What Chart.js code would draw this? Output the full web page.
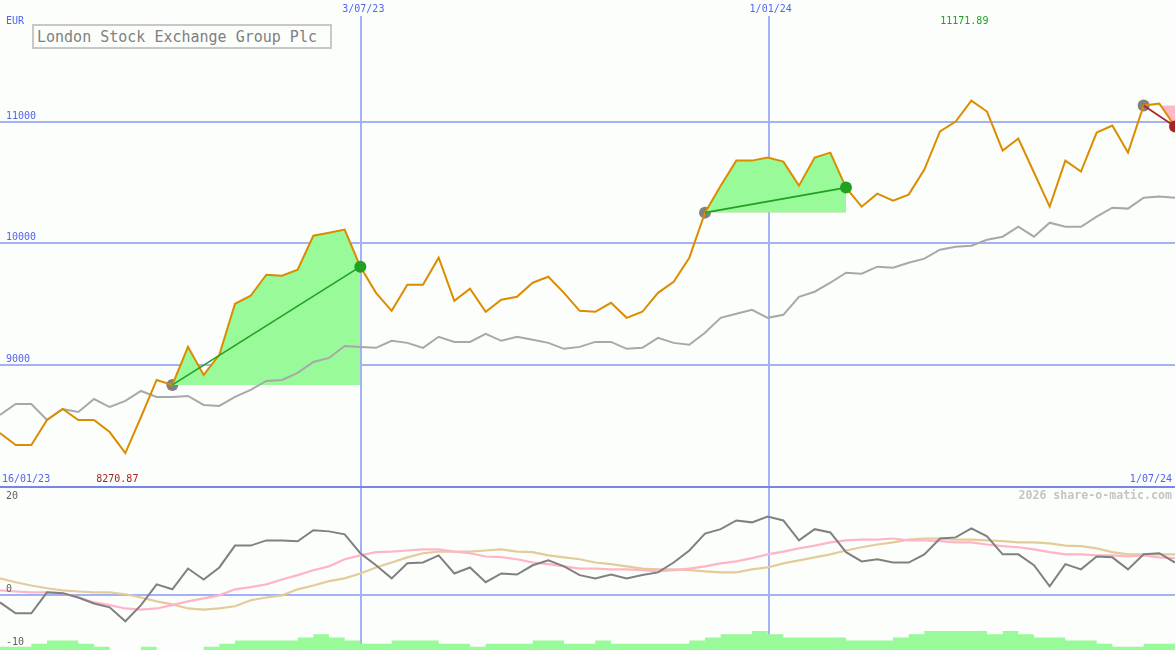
<!DOCTYPE html>
<html>
<head>
<meta charset="utf-8">
<script src="https://cdn.jsdelivr.net/npm/chart.js@4.4.0/dist/chart.umd.min.js"></script>
<style>
html,body{margin:0;padding:0;background:#fcfefc;}
#wrap{position:relative;width:1175px;height:650px;overflow:hidden;background:#fcfefc;}
#c1{position:absolute;left:0;top:0;}
#c2{position:absolute;left:0;top:486px;}
#title{position:absolute;left:32px;top:24px;width:293px;height:21px;border:2px solid #c8c8c8;
  font:15px "DejaVu Sans Mono",monospace;color:#808080;line-height:22px;padding-left:3px;white-space:nowrap;background:#fcfefc;}
</style>
</head>
<body>
<div id="wrap">
  <canvas id="c1" width="1175" height="486"></canvas>
  <canvas id="c2" width="1175" height="164"></canvas>
  <div id="title">London Stock Exchange Group Plc</div>
</div>
<script>
// ---------- data ----------
const currency = 'EUR';
const startDateLabel = '16/01/23';
const endDateLabel = '1/07/24';
const gridDateLabels = ['3/07/23', '1/01/24'];
const gridDateWeeks = [23, 49];
const priceTicks = [9000, 10000, 11000];
const oscTicks = [20, 0, -10];
const watermark = '2026 share-o-matic.com';

// weekly close
const price = [8436, 8337, 8337, 8543, 8634, 8543, 8543, 8444, 8270.87, 8568,
  8873, 8832, 9145, 8914, 9079, 9500, 9566, 9739, 9730, 9780,
  10060, 10085, 10110, 9805, 9590, 9442, 9656, 9656, 9879, 9524,
  9623, 9434, 9533, 9557, 9673, 9722, 9590, 9442, 9434, 9508,
  9384, 9434, 9590, 9681, 9879, 10250, 10472, 10678, 10678, 10703,
  10670, 10472, 10703, 10744, 10456, 10299, 10406, 10349, 10398, 10604,
  10918, 11000, 11171.89, 11082, 10761, 10860, 10580, 10299, 10678, 10588,
  10909, 10967, 10744, 11132, 11148, 10959];

// moving average
const movingAvg = [8585, 8675, 8675, 8543, 8634, 8609, 8716, 8650, 8700, 8782,
  8733, 8733, 8741, 8667, 8659, 8733, 8791, 8865, 8873, 8931,
  9021, 9054, 9153, 9145, 9137, 9195, 9178, 9137, 9228, 9186,
  9186, 9252, 9195, 9228, 9203, 9178, 9129, 9145, 9186, 9186,
  9129, 9137, 9219, 9178, 9162, 9261, 9384, 9417, 9450, 9384,
  9409, 9557, 9599, 9673, 9755, 9747, 9805, 9796, 9838, 9871,
  9945, 9970, 9978, 10027, 10052, 10134, 10052, 10167, 10134, 10134,
  10217, 10291, 10283, 10373, 10382, 10373];

// oscillator panel
const momentum = [-1.3, -3.3, -3.3, 0.55, 0.4, -0.4, -1.5, -2.2, -4.75, -1.8,
  2.0, 1.1, 4.9, 2.9, 5.1, 9.1, 9.1, 10.05, 10.05, 9.9,
  11.9, 11.7, 11.15, 7.7, 5.5, 3.1, 5.85, 6.0, 7.3, 4.0,
  5.1, 2.4, 4.0, 3.8, 5.5, 6.4, 5.3, 3.7, 3.1, 3.8,
  3.1, 3.7, 4.2, 6.0, 8.2, 11.3, 12.1, 13.7, 13.35, 14.4,
  13.7, 10.05, 12.1, 11.5, 7.9, 6.2, 6.6, 6.0, 6.0, 7.5,
  10.4, 10.6, 12.25, 10.8, 7.5, 7.5, 5.5, 1.65, 5.7, 4.75,
  7.1, 6.95, 4.75, 7.5, 7.7, 6.0];
const signal = [0.9, 0.7, 0.55, 0.55, 0.4, -0.4, -1.3, -1.8, -2.4, -2.6,
  -2.4, -1.8, -1.1, -0.55, 0, 1.1, 1.5, 2.0, 2.9, 3.7,
  4.6, 5.3, 6.6, 7.3, 7.9, 8.0, 8.2, 8.4, 8.4, 8.0,
  7.7, 7.1, 7.0, 6.6, 6.0, 5.7, 5.3, 4.9, 4.9, 4.75,
  4.75, 4.6, 4.4, 4.6, 4.9, 5.3, 5.85, 6.2, 6.8, 7.5,
  8.0, 8.6, 9.1, 9.7, 10.05, 10.2, 10.2, 10.4, 10.05, 10.05,
  9.9, 9.7, 9.7, 9.3, 9.0, 8.8, 8.4, 7.9, 7.5, 7.5,
  7.3, 7.3, 7.1, 7.3, 6.95, 6.8];
const slowLine = [3.1, 2.4, 1.8, 1.3, 0.9, 0.7, 0.55, 0.55, 0.2, -0.4,
  -1.1, -1.65, -2.4, -2.6, -2.4, -2.0, -0.9, -0.4, 0, 1.1,
  1.8, 2.6, 3.1, 4.0, 5.1, 6.0, 6.95, 7.7, 8.0, 8.0,
  8.0, 8.2, 8.4, 8.0, 7.9, 7.3, 6.95, 6.6, 6.0, 5.7,
  5.3, 4.9, 4.75, 4.75, 4.6, 4.4, 4.2, 4.2, 4.75, 5.1,
  5.85, 6.4, 6.95, 7.5, 8.2, 8.8, 9.3, 9.7, 10.2, 10.4,
  10.4, 10.2, 10.2, 10.05, 9.9, 9.7, 9.7, 9.5, 9.1, 9.0,
  8.6, 7.9, 7.5, 7.5, 7.5, 7.5];
// relative weekly volume (one value per week interval)
const volume = [1, 1, 2, 3, 3, 2, 1, 0, 0, 1,
  0, 0, 0, 1, 2, 3, 3, 3, 3, 4,
  5, 4, 3, 2, 2, 3, 3, 3, 2, 2,
  1, 2, 2, 2, 3, 3, 2, 2, 3, 2,
  2, 2, 2, 2, 3, 4, 5, 5, 6, 5,
  4, 4, 4, 4, 3, 3, 3, 4, 5, 6,
  6, 6, 6, 5, 6, 5, 4, 4, 3, 3,
  2, 1, 1, 2, 2];

// trades (week indexes)
const tradeStart = [11, 45, 73];
const tradeEnd = [23, 54, 75];

// ---------- styles ----------
const C = {
  grid: '#a3b2f4', sep: '#7585ea', axisText: '#5064f0',
  price: '#dc8c00', ma: '#a8a8a8', mom: '#808080', sig: '#ffb4c8', slow: '#e2cc9a',
  fillUp: '#98fa98', fillDown: '#ffb8c6', win: '#22a022', loss: '#aa2222', start: '#808080',
  vol: '#98fa98', oscText: '#606060', mark: '#c4c4c4'
};
const FONT = '10px "DejaVu Sans Mono", monospace';
const lastWeek = price.length - 1;

const pts = (arr, from = 0, to = arr.length - 1) => {
  const out = [];
  for (let i = from; i <= to; i++) out.push({ x: i, y: arr[i] });
  return out;
};

// ---------- upper chart ----------
const upperDatasets = [];
upperDatasets.push({
  label: 'exit', data: tradeEnd.map(i => ({ x: i, y: price[i] })), showLine: false,
  pointRadius: 6, pointHoverRadius: 6, borderWidth: 0,
  pointBackgroundColor: tradeEnd.map((e, t) => price[e] >= price[tradeStart[t]] ? C.win : C.loss),
  pointBorderWidth: 0, clip: false
});
tradeStart.forEach((s, t) => {
  const e = tradeEnd[t];
  upperDatasets.push({
    label: 'trade' + t, data: [{ x: s, y: price[s] }, { x: e, y: price[e] }],
    borderColor: price[e] >= price[s] ? C.win : C.loss, borderWidth: 1.6, pointRadius: 0, tension: 0
  });
});
upperDatasets.push({ label: 'price', data: pts(price), borderColor: C.price, borderWidth: 2, pointRadius: 0, tension: 0 });
upperDatasets.push({ label: 'ma', data: pts(movingAvg), borderColor: C.ma, borderWidth: 2, pointRadius: 0, tension: 0 });
tradeStart.forEach((s, t) => {
  const e = tradeEnd[t];
  upperDatasets.push({
    label: 'fill' + t, data: pts(price, s, e), borderWidth: 0, pointRadius: 0, tension: 0,
    borderColor: 'rgba(0,0,0,0)',
    fill: { target: { value: price[s] }, above: C.fillUp, below: C.fillDown }
  });
});
upperDatasets.push({
  label: 'entry', data: tradeStart.map(i => ({ x: i, y: price[i] })), showLine: false,
  pointRadius: 6, pointHoverRadius: 6, borderWidth: 0, pointBackgroundColor: C.start, pointBorderWidth: 0
});

const upperPlugin = {
  id: 'upperDeco',
  beforeDatasetsDraw(chart) {
    const { ctx, scales: { x, y }, chartArea: a } = chart;
    ctx.save();
    ctx.fillStyle = C.grid;
    priceTicks.forEach(v => {
      const py = Math.round(y.getPixelForValue(v));
      ctx.fillRect(a.left, py - 1, a.right - a.left, 2);
    });
    gridDateWeeks.forEach(w => {
      const px = Math.round(x.getPixelForValue(w));
      ctx.fillRect(px, 16, 2, a.bottom - 16);
    });
    ctx.restore();
  },
  afterDraw(chart) {
    const { ctx, scales: { x, y }, chartArea: a } = chart;
    ctx.save();
    ctx.font = FONT;
    ctx.textBaseline = 'middle';
    ctx.fillStyle = C.axisText;
    ctx.textAlign = 'left';
    ctx.fillText(currency, 6, 21);
    priceTicks.forEach(v => ctx.fillText(String(v), 6, y.getPixelForValue(v) - 5.5));
    ctx.fillText(startDateLabel, 2, 479);
    ctx.textAlign = 'right';
    ctx.fillText(endDateLabel, a.right - 3, 479);
    ctx.textAlign = 'center';
    gridDateWeeks.forEach((w, i) => ctx.fillText(gridDateLabels[i], x.getPixelForValue(w) + 3, 9));
    // max / min
    let iMax = 0, iMin = 0;
    price.forEach((v, i) => { if (v > price[iMax]) iMax = i; if (v < price[iMin]) iMin = i; });
    ctx.fillStyle = C.win;
    ctx.fillText(price[iMax].toFixed(2), x.getPixelForValue(iMax) - 7, 21);
    ctx.fillStyle = C.loss;
    ctx.fillText(price[iMin].toFixed(2), x.getPixelForValue(iMin) - 8, 479);
    ctx.restore();
  }
};

new Chart(document.getElementById('c1'), {
  type: 'line',
  data: { datasets: upperDatasets },
  options: {
    responsive: false, animation: false, devicePixelRatio: 1,
    layout: { padding: 0, autoPadding: false },
    plugins: { legend: { display: false }, tooltip: { enabled: false }, filler: { propagate: false } },
    events: [],
    scales: {
      x: { type: 'linear', min: 0, max: lastWeek, display: false },
      y: { type: 'linear', min: 8000, max: 12000, display: false }
    }
  },
  plugins: [upperPlugin]
});

// ---------- lower chart ----------
const volPts = volume.map((v, i) => ({ x: i, y: v }));
volPts.push({ x: volume.length, y: volume[volume.length - 1] });

const lowerPlugin = {
  id: 'lowerDeco',
  beforeDatasetsDraw(chart) {
    const { ctx, scales: { x, y }, chartArea: a } = chart;
    ctx.save();
    ctx.fillStyle = C.grid;
    const py = Math.round(y.getPixelForValue(0));
    ctx.fillRect(a.left, py - 1, a.right - a.left, 2);
    gridDateWeeks.forEach(w => {
      const px = Math.round(x.getPixelForValue(w));
      ctx.fillRect(px, a.top, 2, a.bottom - a.top);
    });
    ctx.restore();
  },
  afterDraw(chart) {
    const { ctx, scales: { y }, chartArea: a } = chart;
    ctx.save();
    ctx.fillStyle = C.sep;
    ctx.fillRect(a.left, 0, a.right - a.left, 2);
    ctx.font = FONT;
    ctx.textBaseline = 'middle';
    ctx.textAlign = 'left';
    ctx.fillStyle = C.oscText;
    ctx.fillText(String(oscTicks[0]), 6, y.getPixelForValue(oscTicks[0]) + 10);
    ctx.fillText(String(oscTicks[1]), 6, y.getPixelForValue(oscTicks[1]) - 6);
    ctx.fillText(String(oscTicks[2]), 6, y.getPixelForValue(oscTicks[2]) - 8);
    ctx.textAlign = 'right';
    ctx.fillStyle = C.mark;
    ctx.font = 'bold 11.6px "DejaVu Sans Mono", monospace';
    ctx.fillText(watermark, a.right - 3, 10);
    ctx.restore();
  }
};

new Chart(document.getElementById('c2'), {
  type: 'line',
  data: {
    datasets: [
      { label: 'momentum', data: pts(momentum), borderColor: C.mom, borderWidth: 2, pointRadius: 0, tension: 0 },
      { label: 'signal', data: pts(signal), borderColor: C.sig, borderWidth: 2.2, pointRadius: 0, tension: 0 },
      { label: 'slow', data: pts(slowLine), borderColor: C.slow, borderWidth: 2.2, pointRadius: 0, tension: 0 },
      { label: 'volume', data: volPts, yAxisID: 'yv', stepped: 'before', borderWidth: 0,
        borderColor: 'rgba(0,0,0,0)', pointRadius: 0, backgroundColor: C.vol, fill: 'start' }
    ]
  },
  options: {
    responsive: false, animation: false, devicePixelRatio: 1,
    layout: { padding: 0, autoPadding: false },
    plugins: { legend: { display: false }, tooltip: { enabled: false } },
    events: [],
    scales: {
      x: { type: 'linear', min: 0, max: lastWeek, display: false },
      y: { type: 'linear', min: -10, max: 20, display: false },
      yv: { type: 'linear', min: 0, max: 52, display: false }
    }
  },
  plugins: [lowerPlugin]
});
</script>
</body>
</html>
